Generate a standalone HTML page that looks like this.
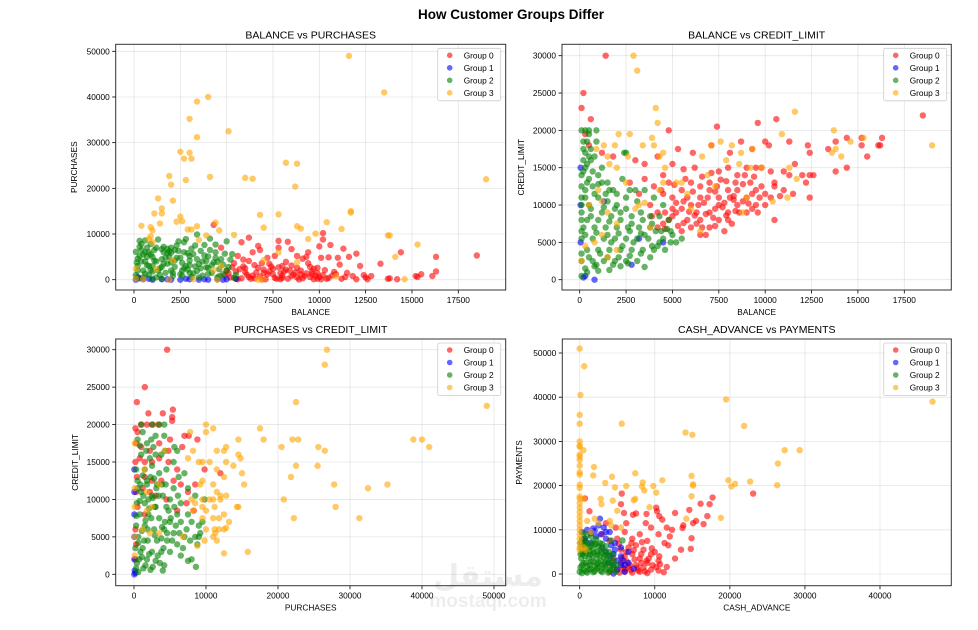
<!DOCTYPE html>
<html><head><meta charset="utf-8"><style>
body{margin:0;background:#fff;width:978px;height:625px;overflow:hidden}
svg{font-family:"Liberation Sans","DejaVu Sans",sans-serif}
</style></head><body>
<svg id="fig" width="978" height="625" viewBox="0 0 978 625">
<text x="511" y="19" text-anchor="middle" font-size="13.5" font-weight="bold" fill="#000">How Customer Groups Differ</text>
<g opacity="0.5">
<text x="488" y="586" text-anchor="middle" font-size="30" font-weight="bold" fill="#ddd" font-family="'Noto Sans CJK SC','DejaVu Sans',sans-serif">مستقل</text>
<text x="488" y="607" text-anchor="middle" font-size="19" font-weight="bold" fill="#ddd">mostaql.com</text>
</g>
</svg>
<script>
// values in thousands
const groupNames=["Group 0","Group 1","Group 2","Group 3"];
const groupColors=["#ff0000","#0000ff","#008000","#ffa500"];
const xTicksBal=[0,2500,5000,7500,10000,12500,15000,17500];
const yTicksPurch=[0,10000,20000,30000,40000,50000];
const yTicksCredit=[0,5000,10000,15000,20000,25000,30000];
const xTicksPurch=[0,10000,20000,30000,40000,50000];
const xTicksCash=[0,10000,20000,30000,40000];
const yTicksPay=[0,10000,20000,30000,40000,50000];

const p1g0=[18.5,5.3,16.3,5,16.3,1.8,16.1,0.8,15.5,1.2,15.2,0.8,15.3,0.6,14.4,6,13.3,3.5,14.2,0.1,13.8,0.3,13.7,0.2,12.8,0.8,12.5,0.5,12.4,1,12.2,3,12,5.7,11.3,6.8,11.6,5,11,4.8,11.1,3.3,10.9,1.2,10.6,7.6,10.5,4.9,10.2,10.2,10.2,8.8,10,7.3,10.1,4.8,9.9,2.6,9.4,6,9.3,5,9.1,4.6,8.8,5.2,8.5,6.7,8.3,8.3,7.8,8.5,7.8,7,7.6,5.2,8,3,8.4,2,6.2,9.2,5.8,8.2,6.7,7.4,6.8,6.5,6.4,6,4.3,12,4.7,7,5.6,5.2,7.3,1.8,9.6,1.2,11.5,1.5,12.6,0.1,10.4,0.2,10.1,0.1,9.7,0.1,5.2,0.5,5.5,1.8,5.8,0.3,6.0,2.5,6.1,1.1,6.3,0.2,6.5,3.2,6.6,1.6,6.8,0.7,7.0,2.2,7.1,0.1,7.3,3.5,7.5,1.2,7.6,0.4,7.8,2.7,8.0,0.9,8.1,1.8,8.3,0.2,8.5,3.1,8.6,1.1,8.8,0.5,9.0,2.0,9.1,0.3,9.3,1.4,9.5,0.6,9.7,2.4,9.9,0.2,10.2,1.0,10.5,0.4,10.8,1.7,5.4,3.6,5.9,4.4,6.2,4.1,7.2,4.8,5.6,0.1,6.9,0.05,7.9,0.1,8.9,0.05,5.0,2.0,4.9,1.0,5.3,2.7,6.4,0.9,7.4,2.9,8.2,3.9,9.4,3.6,9.8,0.9,11.2,0.2,11.8,0.8,12.0,0.1,
5.1,1.4,5.7,2.3,6.2,0.6,6.7,2.6,7.2,1.2,7.7,0.2,8.2,2.2,8.7,1.6,9.2,0.8,9.6,1.8,10.0,0.6,5.5,0.2,6.0,1.6,6.5,0.3,7.0,1.5,7.5,2.4,8.0,0.4,8.5,0.8,9.0,1.2,9.5,2.8,10.3,2.1,10.7,0.9,5.9,2.9,6.9,3.6,7.9,1.4,8.8,2.6,11.4,0.6,9.9,1.4];
const p1g1=[0.1,0,0.5,0.1,1,0,1.5,0.1,2,0,2.5,0,3,0.1,3.5,0,4,0,4.5,0.1,5,0.1,5.5,0.2,0.3,0.3,0.8,0.2,1.8,0.1,2.8,0.2,3.8,0.1,4.8,0,0.2,0.6];
const p1g2=[0.1,1,0.2,3,0.3,5.2,0.4,6.5,0.3,8.5,0.5,2,0.6,4,0.7,7,0.8,1,0.9,5.5,1.0,3,1.1,6.5,1.2,0.5,1.3,8.8,1.4,2.5,1.5,4.5,1.6,6,1.7,1.5,1.8,3.5,1.9,5,2.0,7,2.1,0.8,2.2,2.8,2.3,4.8,2.4,8.4,2.5,1.2,2.6,3.7,2.7,6,2.8,8.9,2.9,2.2,3.0,4.2,3.1,0.6,3.2,5.6,3.3,7.5,3.4,1.9,3.5,3.4,3.6,6.3,3.7,0.9,3.8,7.6,3.9,2.7,4.0,5.1,4.1,9,4.2,1.5,4.3,3.8,4.4,6,4.5,0.5,4.6,2.3,4.7,4.5,4.8,1.2,5.0,8.4,5.1,2.8,5.3,5.6,5.5,1.1,3.4,9.9,2.7,8.2,0.4,7.8,0.6,8.6,0.2,0.3,0.9,2.1,1.5,0.2,0.1,6.1,0.5,5.5,1.2,4,2.0,5.9,0.15,3.8,0.7,3.2,1.6,7.2,2.6,2,3.3,2.9,3.9,4.1,4.4,7.7,4.9,5.7,5.4,0.4,1.8,6.8,0.8,6.0,1.0,0.2,2.2,6.5,3.0,1.5,
0.2,2,0.4,4,0.6,6,0.8,3,1.0,5,1.2,7,1.4,1,1.6,3.5,1.8,5.8,2.0,2,2.2,4.2,2.4,6.3,2.6,0.9,2.8,3,3.0,5.2,3.2,1.4,3.4,4.5,3.6,2.5,3.8,5.3,4.0,1.3,4.2,3.2,4.4,4.8,4.6,0.8,4.8,3.3,5.0,2,5.2,4.4,0.5,0.5,1.0,1.8,1.5,2.8,2.0,3.8,2.5,4.8,3.0,3.2,3.5,0.5,4.0,2.6,4.5,3.9,0.3,7.2,0.7,5,1.1,4.2,1.9,6.2,2.3,7.5,0.9,7.8,0.2,4.6,1.3,2,1.7,4.8,2.7,2.5,3.1,6.8,3.7,4,0.6,1.3,1.5,6.7,2.1,1.5,2.9,5.8,4.1,6.5];
const p1g3=[11.6,49,13.5,41,4,40,3.4,39,3,35.2,5.1,32.5,3.4,31.2,2.5,28,3,27.8,2.7,26.5,3.1,26.5,8.2,25.6,8.8,25.4,1.9,22.7,4.1,22.5,6,22.3,6.4,22.1,2.8,21.8,19,22,2,20.8,8.7,20.4,2.1,17.3,1.3,17.8,1.5,15.6,1.1,14.5,1.5,14.5,6.8,14.2,7.8,14.3,11.7,15,11.7,14.7,2.5,13.8,2.3,12.7,2.6,12.8,0.4,11.8,1.4,12.3,4.4,12.5,8.8,11.7,7,11.4,10.4,12.6,11.2,11.1,9,11.2,0.9,11.5,1,10.8,3.1,11,2.9,11,3.4,11.7,4.6,10.8,5.4,9.8,9.8,10.1,13.8,9.7,13.7,9.7,9.4,8.9,15.3,7.7,14.1,5,14.6,0.1,0.9,9.5,1,8.2,0.8,8.9,3.5,8.7,3.9,9.7,7.8,6,8.8,3.8,7,4.3,2.1,4.2,0.1,2.4,1.2,2.3,0.1,0.2,0.5,0.1,1.9,0,3.2,0.1,4.5,0,6.7,0,6.9,0.1,10.9,0.8,4.7,3,4.3,2.1];

const p2g0=[1.4,30,0.2,25,0.1,23,0.6,21.5,4.8,20,7.4,20.5,9.6,21,10.6,21.5,18.5,22,16.3,19,15.2,19,14.4,19,13.8,18.5,16.1,18,16.2,18,15.2,18,13.4,17.5,15.5,16.5,14.4,15,13.8,14.5,12.4,14,12.6,14,12,14,12.4,17,12.3,18,11.3,18.5,10.2,18,10,18.5,9.3,17.5,8.7,18.5,8.1,17,7.1,18,6.1,17,5.3,17.5,3.5,15.5,3.0,16,1.2,17,1.8,16.5,0.3,19.5,0.5,18,11.6,15.5,11.3,14,11,12,11.5,11.5,12.4,11,10.5,8,10.5,13,10.3,14.5,9.8,15,9.5,15,9,15,8.5,14,8,15,7.5,14.5,7,13,6.5,12.5,6,13,5.5,12,5,11,4.5,11.5,4,12.5,3.5,13.5,4.5,14,5,15.5,5.6,14.8,6.2,15,9.5,12,9,11,8.5,12,8,12,7.5,11,7,12,6.5,11,6,10,5.5,9.5,5,8.5,4.5,7.5,6,7,6.5,8,7,9,7.5,10,8,9,8.5,10,9,9,9.5,10,10,10,7,7,7.5,8,8,8,6.5,6,5.5,6.5,6.8,6,7.8,6.5,8.2,7.5,5,9.5,4.2,9,5.8,11,6.3,9,7.3,11.8,8.8,12.8,9.2,13,10,11.5,10.5,12.5,12.2,13,11,14.5,3.2,11.5,3.8,10,4.8,13,4.2,16.5,2.7,13,5.2,10.3,6.7,10.3,7.7,9.7,8.3,10.7,9.3,9.5,4.6,6.8,5.6,7.6,6.2,8.6,7.2,8.3,
4.2,7,4.8,8,5.2,9,5.8,8,6.3,7.5,6.8,8.8,7.3,9.5,7.8,10.3,8.3,11.2,8.8,10.5,9.3,11.5,9.8,12.5,10.3,11,5.3,7.2,5.9,9.1,6.4,10,6.9,11,7.4,12.5,7.9,13.2,8.4,13,8.9,14,9.4,13.8,6.1,11.8,6.6,13.8,7.1,14.3,7.6,13.4,8.1,11,8.6,9,9.1,10.2,9.7,11,10.8,11.2,4.6,9,3.9,8.5,5.6,10.5,6.6,7,7.3,7.2,7.9,8.6,8.4,9.2,9.6,9,4.4,12,5.1,12.7,5.7,13.5];
const p2g1=[0.8,0,0.2,0.3,0.05,5,0.05,10,0.05,15,2.8,2,0.3,0.5,4.5,5,3.2,5.5,1.3,10.5];
const p2g2=[0.1,20,0.3,20,0.5,20,0.9,20,0.2,18.5,0.4,18.5,0.2,17.5,0.5,16.5,0.2,16,0.3,15,0.6,16,0.8,16.5,0.1,14,0.5,13.5,1.0,14,1.2,13,1.5,13,0.3,12,0.7,12.5,1.8,12,2.3,13.5,2.5,17,2.7,12,0.1,11,0.5,10,1.0,11,1.5,10.5,2.0,10,2.5,11,3.0,12,3.5,12,4,11,4.5,10,0.1,9,0.6,8.5,1.2,9,1.7,8.5,2.2,9,2.8,8.5,3.3,9,3.8,8.5,4.3,8.5,4.8,8,0.2,7,0.8,7,1.4,7,2.0,7,2.6,7,3.2,7,3.8,7,4.4,6.5,5,6,5.5,5.5,0.1,5.5,0.7,5.5,1.3,5.5,1.9,5.5,2.5,5.5,3.1,5.5,3.7,5.5,4.3,5,4.9,5,0.4,4,1.0,4,1.6,4,2.2,4,2.8,4,3.4,4,4.0,4,4.6,4,0.1,2.5,0.7,2.5,1.3,2.5,1.9,2.5,2.5,2.5,3.1,2.5,0.4,1,1,1.2,1.6,1.3,2.2,1.8,3.5,1.7,0.1,0.5,2.4,17,
0.3,1.5,0.9,2,1.5,3,2.1,3,2.7,3.2,3.3,3.5,3.9,4.5,4.5,5.5,0.5,3,1.1,3.5,1.7,5,2.3,4.5,2.9,5,3.5,6,4.1,6.5,4.7,6.8,0.3,6,0.9,6.3,1.5,6,2.1,6.2,2.7,6.5,3.3,6.2,3.9,7.5,0.4,8,1,8,1.6,7.8,2.2,8,2.8,7.5,3.4,8,0.6,9.5,1.3,9.7,1.9,9.5,2.5,9.5,3.1,10.5,0.3,11,0.8,11.5,1.4,11.5,2.0,11.5,0.4,13,1,12.8,1.6,12,0.2,14.5,0.7,14.5,1.2,15,0.4,15.5,0.3,17,0.6,17.5,0.9,18.5,0.5,19.5,0.1,3.5,0.1,6.5,0.1,8,0.1,10,0.1,12.5,0.8,1.8,1.8,2,2.6,2.2,3.8,3,4.2,4.5,5.2,5,4.9,6.5];
const p2g3=[2.9,30,3.1,28,4.1,23,11.6,22.5,4.2,21,13.7,20,2.1,19.5,2.7,19.5,10.9,19.5,3.9,19,15.3,19,14.6,18.5,7.6,18.5,7.1,18,19,18,8.2,18,1.3,18,3.4,18,1.9,18,4.0,18,9.3,17.5,13.8,17.5,13.6,17,8.7,17,0.9,17.5,1.5,16.5,14.1,16.5,4.3,16.5,7.9,16,2.6,16.5,6.6,16.5,4.5,17,8.6,15.5,6.9,14,9.2,15,9.8,15,11.3,15,11.7,13.5,11.2,11,10.4,10.5,2,15,1.6,15.5,4.6,15,5.2,13,5.5,13,4.5,13,2.5,13,1,12,1.2,10.5,3.0,9.5,3.2,10,3.5,10.3,1.5,9,0.5,10,2.0,7.5,3.8,7,1.2,6,0.8,5,0.3,4.5,2.0,4,1.5,3,0.1,2.5,6.5,6.5,4.3,12,7.3,12.5,8.8,9,9.0,11,6.0,9.5,5.8,11.5];

const p3g0=[4.6,30,1.5,25,0.4,23,5.4,22,2,21.5,4,21.5,5.3,21,5.3,20.5,1,20,1.8,20,2.6,20,3.4,20,0.2,19.5,0.5,19,7,18.5,7.6,18.5,8.8,18,5,18,0.3,17.5,1,17,3.5,17.5,6.7,17,2.2,16.5,4.8,16.5,9.8,14,12,13.5,0.2,15,0.8,15.5,1.5,15,2.5,15,3.5,15.5,4.8,15,0.4,13,1.5,13,2.5,12.5,3.8,12.5,5.5,12.5,8.5,12,0.3,11,1.2,11.5,2.2,11,3.0,10.5,4.5,10,6.0,8.5,7.3,9.5,8.3,8.5,0.5,9,1.5,8,0.2,6,0.3,4,0.2,2,6,14,6.5,12,7.5,11];
const p3g1=[0.05,0,0.2,0.2,0.05,2,0.05,5,0.05,8,0.05,11,0.05,14,0.1,0.5];
const p3g2=[1,20,2.5,20,3.5,20,4.2,20,3,18.5,4.2,18.5,1.2,19,0.5,18,1.8,17.5,2.4,18,5.6,17,4.3,16.5,6,16.5,1,16,2.2,15.5,3,16,3.8,16,5.5,15,0.3,14,1.5,14,2.5,14.5,3.5,13.5,4.5,14,6.2,13,7,13.5,0.5,12.5,1.8,12.5,3.2,12,4.4,12,5.5,11.5,7.5,11.5,1,11,2.5,10.5,4,10.5,5,10,6.5,9.5,8.5,10.5,9.8,10,0.4,9.5,1.5,9.5,3,9,4.5,9,6,8,7.5,8,0.8,8,2,8,3.5,7.5,5,7,6.5,7,8,7,9,6.5,0.3,6.5,1.5,6.5,2.8,6,4.2,6,5.5,5.5,7,5,8.5,5,9.2,5.5,0.6,5,1.9,4.5,3.2,4.5,4.6,4.5,6,4,8.8,4,0.2,3.5,1.2,3.5,2.5,3,3.8,3,5,3,6.5,2.5,7.5,1.8,0.7,2,1.8,2,3,1.8,4.2,1.2,8,2,0.3,0.8,1.3,0.8,2.3,0.6,4,0.5,8.6,1,9,5,9.5,7,
0.4,1.5,0.9,3,1.4,4.5,1.9,6,2.4,7.5,2.9,9,3.4,10.5,3.9,12,0.6,4.2,1.1,5.8,1.6,7.2,2.1,8.8,2.6,10.2,3.1,11.5,0.3,7.8,0.8,9.8,1.3,10.5,1.8,12,2.3,13,2.8,12.8,0.5,11.5,1.2,13.2,3.6,1.5,4.1,3.5,4.6,5.5,5.1,7.5,5.6,9,6.1,10.5,3.3,2.5,3.8,4.8,4.3,7,4.8,8.5,5.3,4.5,5.8,6.5,6.3,5.5,6.8,3.5,7.3,6,7.8,4.5,2.6,1,1.6,1.2,0.6,0.3,2.1,2.7,1.1,2.3,2.9,5.2,3.9,6.3,2,10,0.9,12,1.7,16.5,2.7,17,0.8,17.2];
const p3g3=[26.8,30,26.5,28,22.5,23,49,22.5,10,20,11,19.5,10,19,17.5,19.5,7.8,19,14.5,18,18,18,22,18,22.8,18,38.8,18,40,18,41,17,20.5,17,25.6,17,26.5,16.5,11.5,16.5,12.5,16.5,12.8,17,8.2,16.5,14.5,16,14.8,15.5,4.3,16.5,7.5,15.5,9,15,9.5,15,10.5,15,12.8,15,13.8,14.5,22.5,14.5,25.5,14.5,15,13.5,11.5,14,21.8,13,12.5,13,9.5,12.5,9.2,12,11,12,15.3,12,27.8,12,35.2,12,32.5,11.5,11.5,11,12,10.5,12.8,10.5,20.8,10,8,10,9.5,10,10.5,10,11,10,12,10,8.5,9.5,9.5,9,10,8.5,14.3,9,14.5,9,28,9,11.2,9,8.2,8.5,12.5,8,9.5,7.5,11,7.5,11.8,7.5,22.2,7.5,31.3,7.5,13.2,7,10,6,11.2,6,11.8,6,12.5,6,12.8,6.2,11,5,11.3,5.5,6.8,5,9.8,4.5,11.5,4.5,8.8,3.8,12.5,2.8,15.8,3,0.1,17.5,0.1,11.5,0.1,9,0.1,5,0.1,2.5,1.5,14,1.8,11,2.5,9,1.8,8.5,1.2,6,3.5,12,3.5,5.5,2.2,5.5];

const p4g0=[23.1,18.2,17.7,17.3,5.6,18.2,16.1,15.9,17.3,15.8,0.7,17.1,5.5,15.8,14.6,14.5,10.2,15,10.3,14.2,1.3,14.2,5.9,13.8,7.5,13.7,7.1,13.4,8.9,13.6,12.7,13.8,17.0,13.1,10.6,13.1,11.0,12.3,15.5,12,15.1,11.5,16.5,11.3,13.8,11,13.7,10.4,12.3,10,11.6,10.5,6.2,11.5,8.8,11.5,9.5,10.5,3.5,11.5,4.8,10.5,10.5,9,12,8.5,14.9,8.1,11.3,7,11.8,6.5,14.8,5.7,13.5,5.5,12.7,3.5,11.6,1.6,10,5,9,7.5,8,9,7,8,6,9.5,5,8,4,7.5,3,9,6.5,6,7.5,6.5,8.5,5.5,9.5,4.5,10.5,3,9,2.5,8,3.5,7,4.5,6,4,5.5,5.5,7.5,2,8.5,1.5,9.5,1,10.5,0.8,6.5,1.5,5.5,2.5,5,1,6,0.5,7,0.3,8,0.5,9,0.2,7.8,0.8,4.5,3.5,4,0.5,
5.3,0.3,5.8,1.4,6.3,2.8,6.8,0.9,7.3,3.3,7.7,1.4,8.2,2.5,8.7,0.6,9.2,3.5,9.7,2,10.2,1.6,10.7,2.2,11.2,0.4,5.6,3.6,6.2,5,6.7,2,7.2,5.4,8.2,4.5,8.9,3,9.6,5.8,10.6,4,6.9,7,8.3,7.2,5.2,6.8,6.0,1.1];
const p4g1=[2.7,12.5,2.5,11,3.2,10.5,1.8,10.3,1.5,9.2,4,9.5,2.2,8.5,3.5,8,0.8,7.5,1.5,7,4.7,7,5.5,6,6.5,5,5.5,4,4.5,4.5,5,3,6,2,5,1,6,0.5,4.5,0.1,3.8,2.5,5.8,3,4.7,5.5,6.5,2.5,7.2,1.2,3,6,3.5,5,4,4,4.5,2,5.5,2,4.2,6.5,3.5,9.5,2.8,9,2,9.8,1,10,0.6,8,0.3,9.5];
const p4g2=[0,0.5,0.5,1,1,0.3,1.5,1.2,2,0.6,2.5,1.5,3,0.4,3.5,1.1,4,0.8,4.5,1.5,0.3,2,0.8,2.5,1.3,2.1,1.8,2.8,2.3,2.2,2.8,2.9,3.3,2.3,3.8,2.8,4.3,2.4,0.2,3.5,0.7,4,1.2,3.6,1.7,4.2,2.2,3.5,2.7,4.1,3.2,3.7,3.7,4.3,4.2,3.6,0.3,5,0.8,5.5,1.3,5.1,1.8,5.6,2.3,5,2.8,5.5,3.3,5.2,0.5,6.5,1,7,1.5,6.3,2,6.8,2.5,6.2,3,6.8,0.7,8,1.5,8.5,2.2,8,5.7,7.6,4.2,7.6,0.1,1.5,0.1,4.5,0.1,7,
0.3,0.2,0.8,0.6,1.3,1,1.8,0.4,2.3,1.2,2.8,0.7,3.3,1.6,3.8,0.3,4.3,1.1,4.8,0.5,0.5,2.5,1,1.8,1.5,2.8,2,1.8,2.5,2.6,3,2,3.5,3,4,2,4.5,2.9,5,2,0.4,4.5,0.9,4.7,1.4,4.4,1.9,4.8,2.4,4.4,2.9,4.9,3.4,4.3,3.9,5,4.4,4.5,0.2,6,0.7,6.8,1.2,6,1.7,7.2,2.2,6.8,2.7,7,3.5,6.3,0.3,7.8,1,8.8,0.5,9.2];
const p4g3=[0,51,0.6,47,0.1,40.5,0,36,0,34,5.6,34,19.5,39.5,47,39,21.9,33.5,14.1,32,15,31.5,27.3,28,29.3,28,0,30,0,29,0,28.8,0.5,28,0,27,0,26.5,0,25.8,0,24.5,26.4,25,1.9,24.2,0,23,0,22.5,1.8,22.3,4.3,22,7.4,22.8,14.9,22.2,19.8,21.2,22.7,20.9,20.7,20.4,20.2,19.8,15.1,20.3,15.1,20,26.3,20.1,0,20.2,0,19.5,3.4,20.6,4.7,19.6,6.2,19.9,8.4,20.7,8.3,19.8,9.8,19.9,11,21.2,8.6,18.9,10.2,18.4,14.9,17.6,0,17.5,0,17,0.5,17,2.8,17,4.4,16.6,7.2,16.7,7.4,17,0,16,0,15,0,14,2.9,15.8,9.3,15.1,5,14.3,18.8,12.7,14.2,12.5,0,13,0,12,0,11,0,10,0,9,0,8,0,7,0,6,0,5.5,1,12,2,12.5,2.5,11.5,4,12,4.2,11,5.5,10.5,1.5,9.5,0.5,6,0.8,5.5];

const NS="http://www.w3.org/2000/svg";
const svg=document.getElementById('fig');
function mk(tag,attrs,parent){const e=document.createElementNS(NS,tag);for(const k in attrs)e.setAttribute(k,attrs[k]);(parent||svg).appendChild(e);return e;}

const panels=[
 {key:"balance-vs-purchases",title:"BALANCE vs PURCHASES",xl:"BALANCE",yl:"PURCHASES",L:115.7,R:505.7,T:44.3,B:290,x0:134,x1:458.3,xv:17.5,y0:279.7,y1:51.3,yv:50,xt:xTicksBal,yt:yTicksPurch,ylx:77,lg:437.7,series:[p1g0,p1g1,p1g2,p1g3]},
 {key:"balance-vs-credit-limit",title:"BALANCE vs CREDIT_LIMIT",xl:"BALANCE",yl:"CREDIT_LIMIT",L:562,R:951.3,T:44.3,B:290,x0:579.7,x1:904.3,xv:17.5,y0:279.7,y1:55.7,yv:30,xt:xTicksBal,yt:yTicksCredit,ylx:524,lg:883.7,series:[p2g0,p2g1,p2g2,p2g3]},
 {key:"purchases-vs-credit-limit",title:"PURCHASES vs CREDIT_LIMIT",xl:"PURCHASES",yl:"CREDIT_LIMIT",L:115.7,R:505.7,T:339,B:585.7,x0:134,x1:494,xv:50,y0:574.3,y1:349.7,yv:30,xt:xTicksPurch,yt:yTicksCredit,ylx:78,lg:437.7,series:[p3g0,p3g1,p3g2,p3g3]},
 {key:"cash-advance-vs-payments",title:"CASH_ADVANCE vs PAYMENTS",xl:"CASH_ADVANCE",yl:"PAYMENTS",L:562.3,R:951.3,T:339,B:585.7,x0:579.7,x1:880,xv:40,y0:574,y1:353,yv:50,xt:xTicksCash,yt:yTicksPay,ylx:522,lg:883.7,series:[p4g0,p4g1,p4g2,p4g3]}
];

panels.forEach(p=>{
 const sx=v=>p.x0+(v)*(p.x1-p.x0)/p.xv;
 const sy=v=>p.y0+(v)*(p.y1-p.y0)/p.yv;
 const g=mk('g',{});
 
 
 const t=mk('text',{x:(p.L+p.R)/2,y:p.T-6,'text-anchor':'middle','font-size':'10.5',fill:'#000'},g);
 t.textContent=p.title;
 
 
 p.xt.forEach(v=>{
  const x=sx(v/1000);
  const gl=mk('line',{x1:x,x2:x,y1:p.T,y2:p.B,stroke:'#000','stroke-opacity':'0.1','stroke-width':'0.8'},g);
  
  
  mk('line',{x1:x,x2:x,y1:p.B,y2:p.B+3.5,stroke:'#000','stroke-width':'0.8'},g);
  const tl=mk('text',{x:x,y:p.B+13,'text-anchor':'middle','font-size':'8.3',fill:'#000'},g);
  tl.textContent=v;
  
  
 });
 p.yt.forEach(v=>{
  const y=sy(v/1000);
  const gl=mk('line',{x1:p.L,x2:p.R,y1:y,y2:y,stroke:'#000','stroke-opacity':'0.1','stroke-width':'0.8'},g);
  
  
  mk('line',{x1:p.L-3.5,x2:p.L,y1:y,y2:y,stroke:'#000','stroke-width':'0.8'},g);
  const tl=mk('text',{x:p.L-6,y:y+3,'text-anchor':'end','font-size':'8.3',fill:'#000'},g);
  tl.textContent=v;
  
  
 });
 p.series.forEach((arr,gi)=>{
  const sg=mk('g',{fill:groupColors[gi],'fill-opacity':'0.6'},g);
  
  
  for(let i=0;i<arr.length;i+=2){
   const c=mk('circle',{cx:sx(arr[i]),cy:sy(arr[i+1]),r:3.2},sg);
   
   
  }
 });
 const fr=mk('rect',{x:p.L,y:p.T,width:p.R-p.L,height:p.B-p.T,fill:'none',stroke:'#333','stroke-width':'1'},g);
 
 
 const xl=mk('text',{x:(p.L+p.R)/2,y:p.B+25,'text-anchor':'middle','font-size':'8.3',fill:'#000'},g);
 xl.textContent=p.xl;
 
 
 const yc=(p.T+p.B)/2;
 const yl=mk('text',{x:p.ylx,y:yc,'text-anchor':'middle','font-size':'8.3',fill:'#000',transform:`rotate(-90 ${p.ylx} ${yc})`},g);
 yl.textContent=p.yl;
 
 
 const lgTop=p.T+4;
 const lgG=mk('g',{},g);
 
 
 mk('rect',{x:p.lg,y:lgTop,width:63,height:52.5,rx:2,fill:'#fff','fill-opacity':'0.8',stroke:'#ccc','stroke-width':'0.8'},lgG);
 groupNames.forEach((n,gi)=>{
  const y=lgTop+7+gi*12.5;
  const e=mk('g',{},lgG);
  
  
  mk('circle',{cx:p.lg+12,cy:y,r:2.8,fill:groupColors[gi],'fill-opacity':'0.6'},e);
  const tx=mk('text',{x:p.lg+26,y:y+3,'font-size':'8.3',fill:'#000'},e);
  tx.textContent=n;
 });
});
</script>
</body></html>
